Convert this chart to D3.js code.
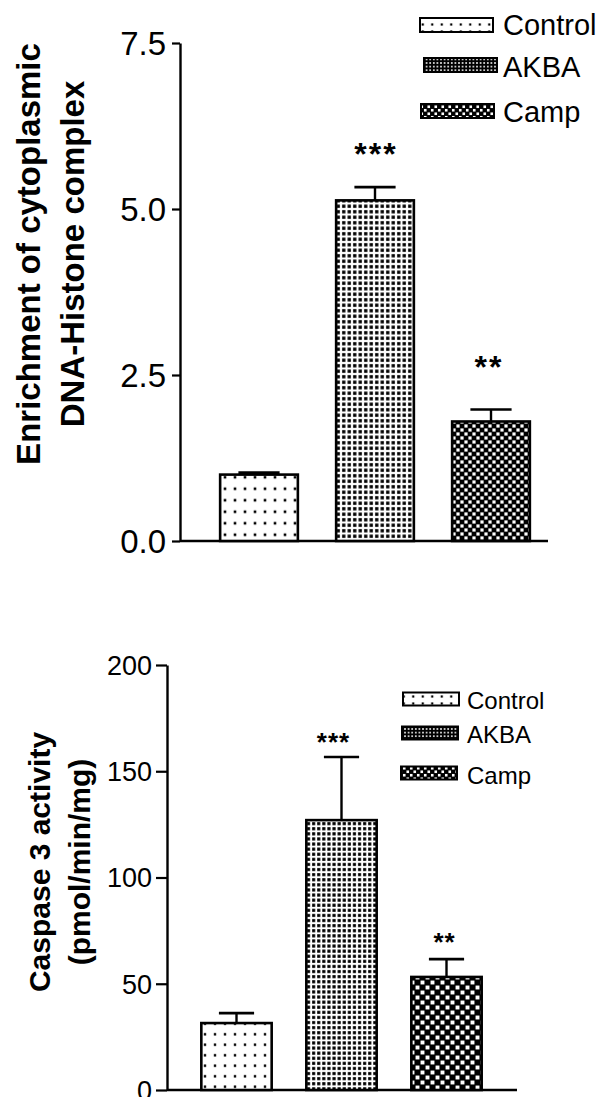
<!DOCTYPE html>
<html>
<head>
<meta charset="utf-8">
<script src="https://cdn.jsdelivr.net/npm/d3@7/dist/d3.min.js"></script>
<style>
html,body{margin:0;padding:0;background:#fff;}
svg{display:block;}
text{font-family:"Liberation Sans",Arial,Helvetica,sans-serif;fill:#000;}
</style>
</head>
<body>
<svg id="chart" width="604" height="1097"></svg>
<script>
// ---- data ----
const categories = ["Control", "AKBA", "Camp"];

// top panel: Enrichment of cytoplasmic DNA-Histone complex
const topMeans = [1.0, 5.13, 1.8];
const topErrs = [0.03, 0.2, 0.18];
const topSig = ["", "***", "**"];
const topTicks = [0, 2.5, 5.0, 7.5];

// bottom panel: Caspase 3 activity (pmol/min/mg)
const botMeans = [31.5, 127, 53.2];
const botErrs = [4.7, 29.7, 8.4];
const botSig = ["", "***", "**"];
const botTicks = [0, 50, 100, 150, 200];

const svg = d3.select("#chart");
const defs = svg.append("defs");

// patterns
function dotPattern(id, w, h, s, bg, fg) {
  const p = defs.append("pattern").attr("id", id).attr("patternUnits", "userSpaceOnUse")
    .attr("width", w).attr("height", h);
  p.append("rect").attr("width", w).attr("height", h).attr("fill", bg || "#fff");
  p.append("rect").attr("x", (w - s) / 2).attr("y", (h - s) / 2).attr("width", s).attr("height", s).attr("fill", fg || "#000");
}
function checkPattern(id, c, s) {
  const p = defs.append("pattern").attr("id", id).attr("patternUnits", "userSpaceOnUse")
    .attr("width", 2 * c).attr("height", 2 * c);
  p.append("rect").attr("width", 2 * c).attr("height", 2 * c).attr("fill", "#000");
  const o = (c - s) / 2;
  p.append("rect").attr("x", o).attr("y", o).attr("width", s).attr("height", s).attr("fill", "#fff");
  p.append("rect").attr("x", c + o).attr("y", c + o).attr("width", s).attr("height", s).attr("fill", "#fff");
}
dotPattern("ctlTop", 10, 11.5, 2.6);
dotPattern("akbaTop", 5.5, 5.5, 3.3);
checkPattern("campTop", 4, 3.2);
dotPattern("ctlBot", 10, 10.5, 2.4);
dotPattern("akbaBot", 5.1, 5.1, 3.1);
checkPattern("campBot", 5, 3.9);
dotPattern("ctlLeg", 9.5, 7, 2.2);
dotPattern("akbaLeg", 3.6, 3.6, 1.6, "#000", "#fff");
checkPattern("campLeg", 3.5, 2.6);

function panel(cfg) {
  const g = svg.append("g");
  const y = d3.scaleLinear().domain(cfg.ydomain).range(cfg.yrange);
  const x = d3.scaleBand().domain(categories).range(cfg.xrange).paddingInner(0.33).paddingOuter(0.165);

  // y axis
  const ax = g.append("g").attr("transform", `translate(${cfg.axisX},0)`)
    .call(d3.axisLeft(y).tickValues(cfg.ticks).tickFormat(cfg.fmt).tickSize(cfg.tickLen).tickSizeOuter(0).tickPadding(cfg.tickPad));
  ax.select(".domain").attr("stroke", "#000").attr("stroke-width", 2.4);
  ax.selectAll(".tick line").attr("stroke", "#000").attr("stroke-width", 2.2);
  ax.selectAll(".tick text").attr("font-size", cfg.tickFont).attr("fill", "#000")
    .style("font-family", "'Liberation Sans',Arial,sans-serif").attr("dy", "0.35em");

  // x baseline
  g.append("line").attr("x1", cfg.axisX).attr("x2", cfg.xEnd)
    .attr("y1", y(0)).attr("y2", y(0)).attr("stroke", "#000").attr("stroke-width", 2.4);

  // bars
  g.selectAll("rect.bar").data(categories).join("rect").attr("class", "bar")
    .attr("x", d => x(d)).attr("width", x.bandwidth())
    .attr("y", (d, i) => y(cfg.means[i])).attr("height", (d, i) => y(0) - y(cfg.means[i]))
    .attr("fill", (d, i) => `url(#${cfg.pats[i]})`).attr("stroke", "#000").attr("stroke-width", 2.6);

  // error bars
  const capW = x.bandwidth() * cfg.capFrac;
  g.selectAll("line.err").data(categories).join("line").attr("class", "err")
    .attr("x1", d => x(d) + x.bandwidth() / 2).attr("x2", d => x(d) + x.bandwidth() / 2)
    .attr("y1", (d, i) => y(cfg.means[i])).attr("y2", (d, i) => y(cfg.means[i] + cfg.errs[i]))
    .attr("stroke", "#000").attr("stroke-width", 2.4);
  g.selectAll("line.cap").data(categories).join("line").attr("class", "cap")
    .attr("x1", d => x(d) + x.bandwidth() / 2 - capW / 2).attr("x2", d => x(d) + x.bandwidth() / 2 + capW / 2)
    .attr("y1", (d, i) => y(cfg.means[i] + cfg.errs[i])).attr("y2", (d, i) => y(cfg.means[i] + cfg.errs[i]))
    .attr("stroke", "#000").attr("stroke-width", 2.6);

  // significance
  g.selectAll("text.sig").data(categories).join("text").attr("class", "sig")
    .attr("x", (d, i) => x(d) + x.bandwidth() / 2 + cfg.sigDx[i])
    .attr("y", (d, i) => y(cfg.means[i] + cfg.errs[i]) - cfg.sigOff[i])
    .attr("text-anchor", "middle").attr("font-size", cfg.sigFont).attr("font-weight", "bold")
    .attr("letter-spacing", cfg.sigSpace)
    .text((d, i) => cfg.sig[i]);

  // y title
  cfg.title.forEach((t, i) => {
    g.append("text").attr("transform", `translate(${cfg.titleX[i]},${cfg.titleY}) rotate(-90)`)
      .attr("text-anchor", "middle").attr("font-size", cfg.titleFont).attr("font-weight", "bold").text(t);
  });

  // legend
  const lg = g.append("g");
  categories.forEach((c, i) => {
    const L = cfg.leg;
    lg.append("rect").attr("x", L.x[i]).attr("y", L.y[i] - L.h / 2).attr("width", L.w).attr("height", L.h)
      .attr("fill", `url(#${L.pats[i]})`).attr("stroke", "#000").attr("stroke-width", 2);
    lg.append("text").attr("x", L.tx).attr("y", L.ty[i]).attr("dy", "0.36em")
      .attr("font-size", L.font).text(c);
  });
}

panel({
  ydomain: [0, 7.5], yrange: [541, 43], xrange: [201, 549], axisX: 180, xEnd: 548,
  ticks: topTicks, fmt: d3.format(".1f"), tickLen: 8, tickPad: 6, tickFont: 33,
  means: topMeans, errs: topErrs, sig: topSig, pats: ["ctlTop", "akbaTop", "campTop"],
  capFrac: 0.53, sigDx: [0, 1, -2], sigOff: [0, 22, 32], sigFont: 32, sigSpace: 2,
  title: ["Enrichment of cytoplasmic", "DNA-Histone complex"], titleX: [40, 84], titleY: 254, titleFont: 33,
  leg: { x: [420, 424, 421], y: [25, 65, 111], ty: [25, 67, 112], w: 73, h: 14, tx: 503, font: 29, pats: ["ctlLeg", "akbaLeg", "campLeg"] }
});

panel({
  ydomain: [0, 200], yrange: [1090, 665], xrange: [184, 499], axisX: 167, xEnd: 517,
  ticks: botTicks, fmt: d3.format("d"), tickLen: 11, tickPad: 4, tickFont: 27,
  means: botMeans, errs: botErrs, sig: botSig, pats: ["ctlBot", "akbaBot", "campBot"],
  capFrac: 0.5, sigDx: [0, -8, -2], sigOff: [0, 6, 8], sigFont: 26, sigSpace: 1,
  title: ["Caspase 3 activity", "(pmol/min/mg)"], titleX: [50, 90], titleY: 862, titleFont: 30,
  leg: { x: [403, 402, 401], y: [699, 733, 773], ty: [700, 734, 775], w: 56, h: 13, tx: 467, font: 24, pats: ["ctlLeg", "akbaLeg", "campLeg"] }
});
</script>
</body>
</html>
